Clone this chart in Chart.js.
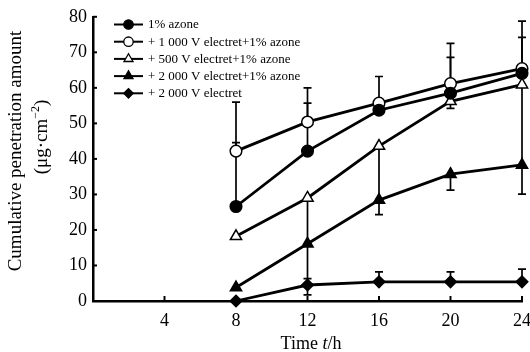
<!DOCTYPE html>
<html>
<head>
<meta charset="utf-8">
<script src="https://cdn.jsdelivr.net/npm/chart.js@4"></script>
<style>
  html, body { margin: 0; padding: 0; background: #fff; }
  #wrap { width: 530px; height: 352px; }
</style>
</head>
<body>
<div id="wrap"><canvas id="penChart" width="530" height="352"></canvas></div>
<script>
// values
const hours = [8, 12, 16, 20, 24];
const xTicks = [4, 8, 12, 16, 20, 24];

const azone = [26.6, 42.2, 53.7, 58.5, 64.1];
const azoneUp = [18, 13.5, 0, 10.1, 10.1];

const e1000Azone = [42.2, 50.4, 55.7, 61.2, 65.4];
const e1000Up = [13.8, 9.6, 7.5, 11.3, 13.4];

const e500Azone = [18.2, 29, 43.6, 56.2, 60.9];
const e500Down = [0, 12.9, 15, 2, 22.6];

const e2000Azone = [3.8, 16.1, 28.4, 35.7, 38.3];
const e2000AzDown = [0, 11.6, 4.1, 4.5, 8.2];

const e2000 = [0, 4.5, 5.4, 5.4, 5.4];
const e2000Up = [0, 1.8, 2.8, 2.8, 3.6];
const e2000Down = [0, 2.8, 0, 0, 0];

const labels = [
    '1% azone',
    '+ 1 000 V electret+1% azone',
    '+ 500 V electret+1% azone',
    '+ 2 000 V electret+1% azone',
    '+ 2 000 V electret'
];

const serif = "'Liberation Serif', 'DejaVu Serif', serif";

function pts(vals) {
    return hours.map((h, i) => ({ x: h, y: vals[i] }));
}

function series(label, vals, style, fill, up, down) {
    return {
        label: label,
        data: pts(vals),
        borderColor: '#000',
        borderWidth: 2.8,
        pointStyle: style,
        pointRadius: style === 'triangle' ? 6.5 : 5.8,
        pointBackgroundColor: fill,
        pointBorderColor: '#000',
        pointBorderWidth: 1.5,
        tension: 0,
        errUp: up,
        errDown: down
    };
}

// error bars, drawn under the markers
const errorBars = {
    id: 'errorBars',
    beforeDatasetsDraw(chart) {
        const ctx = chart.ctx;
        const xs = chart.scales.x, ys = chart.scales.y;
        ctx.save();
        ctx.strokeStyle = '#000';
        ctx.lineWidth = 1.7;
        chart.data.datasets.forEach(ds => {
            ds.data.forEach((p, i) => {
                const px = xs.getPixelForValue(p.x);
                const ends = [];
                if (ds.errUp && ds.errUp[i]) ends.push(p.y + ds.errUp[i]);
                if (ds.errDown && ds.errDown[i]) ends.push(p.y - ds.errDown[i]);
                ends.forEach(v => {
                    const py0 = ys.getPixelForValue(p.y);
                    const py1 = ys.getPixelForValue(v);
                    ctx.beginPath();
                    ctx.moveTo(px, py0);
                    ctx.lineTo(px, py1);
                    ctx.moveTo(px - 4, py1);
                    ctx.lineTo(px + 4, py1);
                    ctx.stroke();
                });
            });
        });
        ctx.restore();
    }
};

// inward ticks, legend and axis titles
const decor = {
    id: 'decor',
    afterDraw(chart) {
        const ctx = chart.ctx;
        const xs = chart.scales.x, ys = chart.scales.y;
        const area = chart.chartArea;
        ctx.save();
        ctx.strokeStyle = '#000';
        ctx.lineWidth = 2;
        for (let v = 10; v <= 80; v += 10) {
            const py = ys.getPixelForValue(v);
            ctx.beginPath();
            ctx.moveTo(area.left, py);
            ctx.lineTo(area.left + 4, py);
            ctx.stroke();
        }
        xTicks.forEach(v => {
            const px = xs.getPixelForValue(v);
            ctx.beginPath();
            ctx.moveTo(px, area.bottom);
            ctx.lineTo(px, area.bottom - 5);
            ctx.stroke();
        });

        // legend
        ctx.font = '13px ' + serif;
        ctx.textBaseline = 'middle';
        chart.data.datasets.forEach((ds, i) => {
            const y = 24.5 + i * 17.2;
            ctx.strokeStyle = '#000';
            ctx.lineWidth = 2;
            ctx.beginPath();
            ctx.moveTo(114, y);
            ctx.lineTo(143, y);
            ctx.stroke();
            ctx.lineWidth = 1.3;
            ctx.fillStyle = ds.pointBackgroundColor;
            Chart.helpers.drawPoint(ctx, {
                pointStyle: ds.pointStyle,
                radius: ds.pointStyle === 'triangle' ? 5.2 : 4.7,
                rotation: 0,
                borderWidth: 1.3
            }, 128.5, y);
            ctx.fillStyle = '#000';
            ctx.fillText(ds.label, 148, y + 0.5);
        });

        // y title
        ctx.save();
        ctx.translate(16, 151);
        ctx.rotate(-Math.PI / 2);
        ctx.textAlign = 'center';
        ctx.font = '19px ' + serif;
        ctx.fillText('Cumulative penetration amount', 0, 0);
        ctx.restore();

        ctx.save();
        ctx.translate(42, 137);
        ctx.rotate(-Math.PI / 2);
        ctx.textAlign = 'left';
        ctx.font = '19px ' + serif;
        const a = '(\u03bcg\u00b7cm', b = '\u22122', c = ')';
        const wa = ctx.measureText(a).width;
        ctx.font = '12px ' + serif;
        const wb = ctx.measureText(b).width;
        ctx.font = '19px ' + serif;
        const wc = ctx.measureText(c).width;
        let x0 = -(wa + wb + wc) / 2;
        ctx.fillText(a, x0, 0);
        ctx.font = '12px ' + serif;
        ctx.fillText(b, x0 + wa, -6);
        ctx.font = '19px ' + serif;
        ctx.fillText(c, x0 + wa + wb, 0);
        ctx.restore();

        // x title with italic t
        ctx.textAlign = 'left';
        const p1 = 'Time ', p2 = 't', p3 = '/h';
        ctx.font = '18px ' + serif;
        const w1 = ctx.measureText(p1).width, w3 = ctx.measureText(p3).width;
        ctx.font = 'italic 18px ' + serif;
        const w2 = ctx.measureText(p2).width;
        let tx = 311 - (w1 + w2 + w3) / 2;
        const ty = 344;
        ctx.font = '18px ' + serif;
        ctx.fillText(p1, tx, ty);
        ctx.font = 'italic 18px ' + serif;
        ctx.fillText(p2, tx + w1, ty);
        ctx.font = '18px ' + serif;
        ctx.fillText(p3, tx + w1 + w2, ty);
        ctx.restore();
    }
};

const ctx = document.getElementById('penChart').getContext('2d');
new Chart(ctx, {
    type: 'line',
    data: {
        datasets: [
            series(labels[0], azone, 'circle', '#000', azoneUp, null),
            series(labels[1], e1000Azone, 'circle', '#fff', e1000Up, null),
            series(labels[2], e500Azone, 'triangle', '#fff', null, e500Down),
            series(labels[3], e2000Azone, 'triangle', '#000', null, e2000AzDown),
            series(labels[4], e2000, 'rectRot', '#000', e2000Up, e2000Down)
        ]
    },
    options: {
        responsive: false,
        animation: false,
        clip: false,
        layout: { padding: { left: 0, right: 5, top: 15, bottom: 0 } },
        plugins: {
            legend: { display: false },
            tooltip: { enabled: false }
        },
        scales: {
            x: {
                type: 'linear',
                min: 0,
                max: 24,
                afterBuildTicks: s => { s.ticks = xTicks.map(v => ({ value: v })); },
                afterFit: s => { s.height = 51; s.paddingLeft = 0; s.paddingRight = 0; },
                grid: { display: false, drawTicks: false },
                border: { color: '#000', width: 2.5 },
                ticks: { color: '#000', padding: 9, maxRotation: 0, font: { family: serif, size: 18 } }
            },
            y: {
                min: 0,
                max: 80,
                afterFit: s => { s.width = 93; },
                grid: { display: false, drawTicks: false },
                border: { color: '#000', width: 2.5 },
                ticks: { color: '#000', stepSize: 10, padding: 6, font: { family: serif, size: 18 } }
            }
        }
    },
    plugins: [errorBars, decor]
});
</script>
</body>
</html>
